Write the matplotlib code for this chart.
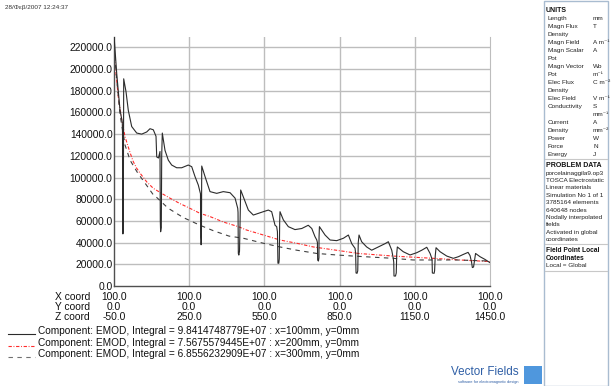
import matplotlib
matplotlib.use("Agg")
import matplotlib.pyplot as plt
from matplotlib import transforms
from matplotlib.patches import Rectangle
from matplotlib.lines import Line2D

plt.rcParams['font.family'] = ['Liberation Sans', 'DejaVu Sans']

# ---------------- data (Z coordinate in mm, EMOD) ----------------
z_solid = [-50, -39.2, -26, -16.9, -16, -15.7, -14.5, -13, -12, -11.3, -2, 7, 20.6, 40.6, 60.5, 80.5,
           93.6, 106.8, 117.6, 120.4, 127.5, 133.5, 134.7, 136, 138.7, 140.3, 142.7, 153.5, 166.7,
           180.2, 200, 220, 246.4, 260, 273, 286.4, 295, 296, 297.5, 298.7, 300, 313, 333, 359.7,
           386, 413, 433, 443.6, 444.8, 446, 448, 450.7, 454, 455.4, 466, 486, 505.8, 525.7, 545.7,
           565.7, 579, 592.4, 599, 602, 604, 607.5, 609.3, 611, 612.3, 625.5, 645.5, 672, 699, 725,
           739, 752, 759, 761.5, 762.5, 765.5, 767.5, 768, 769.5, 792, 812, 838.5, 865, 885, 898.5,
           911.7, 914, 915.6, 919.6, 922.4, 924.4, 927.5, 938, 958, 978, 1004.5, 1031, 1044.5, 1058,
           1064, 1066, 1067, 1073, 1076, 1078, 1080.3, 1104, 1131, 1157.8, 1177.8, 1197.7, 1211,
           1217.7, 1219, 1220, 1227, 1229, 1231.6, 1234.8, 1250.7, 1277.5, 1303.8, 1323.8, 1342.5,
           1362.5, 1370.4, 1376.4, 1379.6, 1384.4, 1388.4, 1392.4, 1410.3, 1430, 1450]
emod_solid = [231000, 196000, 162000, 151000, 140000, 56000, 48000, 52000, 150000, 191000, 179000,
              162000, 147000, 141000, 140000, 142000, 145000, 144000, 138000, 119000, 118000, 124000,
              60000, 50000, 54000, 120000, 141000, 125000, 116000, 111500, 109000, 109000, 111500,
              110000, 101000, 93000, 85000, 45000, 38000, 42000, 110600, 101000, 87000, 85400, 87000,
              86000, 81000, 71600, 68000, 30000, 28500, 32000, 75000, 88500, 82000, 70000, 65400,
              67000, 68500, 70000, 68500, 56000, 54700, 50000, 21000, 21000, 25000, 60000, 68500,
              61000, 54700, 52000, 53000, 56000, 53000, 45400, 42400, 40000, 24000, 23000, 26000,
              45000, 54700, 47000, 42400, 41800, 44000, 47000, 39000, 34700, 30000, 12000, 11700,
              14000, 40000, 47000, 40800, 36000, 33000, 36000, 39000, 40800, 33000, 25500, 22000,
              9200, 9200, 12000, 30000, 36000, 31600, 28600, 30700, 33000, 35700, 30000, 25500,
              23000, 12000, 11700, 14000, 28000, 35300, 31600, 27600, 25500, 27000, 29000, 31000,
              28000, 22000, 17000, 17500, 24000, 30000, 27000, 24500, 21500]

z_red = [-50, -46, -33, -19, -6, 14, 27, 40.6, 54, 80.5, 107, 140, 173, 213, 253, 293, 333, 386,
         446, 479, 546, 612, 679, 745, 812, 878, 925, 1064, 1224, 1330, 1450]
emod_red = [225000, 205000, 174500, 153000, 137600, 123000, 114600, 108500, 104000, 96000, 90000,
            85400, 81000, 76000, 71600, 67000, 64000, 59000, 54700, 51600, 47000, 42400, 39400,
            36000, 33800, 31600, 30000, 27600, 25500, 24000, 22500]

z_dash = [-50, -39, -26, -6, 14, 43, 81, 107, 120, 160, 173, 220, 233, 293, 346, 409, 466, 546,
          612, 679, 759, 838, 905, 1064, 1143, 1223, 1317, 1450]
emod_dash = [220000, 190000, 158000, 130000, 116000, 104800, 92500, 84000, 81700, 73000, 70700,
             64000, 62400, 56000, 51000, 46000, 44000, 39400, 36000, 33000, 30000, 28600, 27600,
             25500, 24000, 24000, 24000, 23000]

y_ticks = [0, 20000, 40000, 60000, 80000, 100000, 120000, 140000, 160000, 180000, 200000, 220000]
z_ticks = [-50.0, 250.0, 550.0, 850.0, 1150.0, 1450.0]
x_coord = [100.0, 100.0, 100.0, 100.0, 100.0, 100.0]
y_coord = [0.0, 0.0, 0.0, 0.0, 0.0, 0.0]

legend_labels = [
    "Component: EMOD, Integral = 9.8414748779E+07 : x=100mm, y=0mm",
    "Component: EMOD, Integral = 7.5675579445E+07 : x=200mm, y=0mm",
    "Component: EMOD, Integral = 6.8556232909E+07 : x=300mm, y=0mm",
]

units_rows = [
    ("Length", "mm"), ("Magn Flux", "T"), ("Density", ""), ("Magn Field", "A m\u207b\u00b9"),
    ("Magn Scalar", "A"), ("Pot", ""), ("Magn Vector", "Wb"), ("Pot", "m\u207b\u00b9"),
    ("Elec Flux", "C m\u207b\u00b2"), ("Density", ""), ("Elec Field", "V m\u207b\u00b9"),
    ("Conductivity", "S"), ("", "mm\u207b\u00b9"), ("Current", "A"), ("Density", "mm\u207b\u00b2"),
    ("Power", "W"), ("Force", "N"), ("Energy", "J"),
]
problem_rows = ["porcelainaggila9.op3", "TOSCA Electrostatic", "Linear materials",
                "Simulation No 1 of 1", "3785164 elements", "640648 nodes",
                "Nodally interpolated", "fields", "Activated in global", "coordinates"]

# ---------------- figure ----------------
W, H = 611, 386
fig = plt.figure(figsize=(W / 100, H / 100), dpi=100)
fig.patch.set_facecolor('white')

def fx(px):
    return px / W

def fy(py):
    return 1 - py / H

ax = fig.add_axes([fx(114), fy(286), fx(490) - fx(114), fy(36.5) - fy(286)])
ax.set_xlim(-50, 1450)
ax.set_ylim(0, 230000)

grid_c = '#bdbdbd'
for z in z_ticks[1:-1]:
    ax.axvline(z, color=grid_c, lw=1.0, zorder=0)
for y in y_ticks[1:]:
    ax.axhline(y, color=grid_c, lw=1.0, zorder=0)

ax.plot(z_solid, emod_solid, color='#2b2b2b', lw=0.8, zorder=3)
ax.plot(z_red, emod_red, color='#ff2a2a', lw=0.8, linestyle=(0, (3, 1.5, 0.8, 1.5)), zorder=2)
ax.plot(z_dash, emod_dash, color='#404040', lw=0.8, linestyle=(0, (4, 4)), zorder=2)

ax.spines['top'].set_visible(False)
ax.spines['right'].set_color(grid_c)
ax.spines['left'].set_color('#505050')
ax.spines['bottom'].set_color('#505050')
ax.spines['left'].set_linewidth(1.0)
ax.spines['bottom'].set_linewidth(1.0)

ax.set_yticks(y_ticks)
ax.set_yticklabels([f"{v:.1f}" for v in y_ticks], fontsize=7.4, color='#111111')
ax.tick_params(axis='y', length=0, pad=1)
ax.set_xticks([])

# x coordinate rows
tr = transforms.blended_transform_factory(ax.transData, fig.transFigure)
rows = [("X coord", x_coord, 297), ("Y coord", y_coord, 307.3), ("Z coord", z_ticks, 317)]
for name, vals, py in rows:
    fig.text(fx(90), fy(py), name, ha='right', va='center', fontsize=7.4, color='#111111')
    for z, v in zip(z_ticks, vals):
        fig.text(z, fy(py), f"{v:.1f}", ha='center', va='center', fontsize=7.4,
                 color='#111111', transform=tr)

# legend
leg_styles = [dict(color='#2b2b2b', ls='-'),
              dict(color='#ff2a2a', ls=(0, (3, 1.5, 0.8, 1.5))),
              dict(color='#707070', ls=(0, (4, 4)))]
for i, (lab, st) in enumerate(zip(legend_labels, leg_styles)):
    py = 331 + 11.6 * i
    fig.add_artist(Line2D([fx(8), fx(35)], [fy(py + 3), fy(py + 3)], lw=0.8,
                          color=st['color'], linestyle=st['ls'], transform=fig.transFigure))
    fig.text(fx(38), fy(py), lab, ha='left', va='center', fontsize=7.3, color='#111111')

# timestamp
fig.text(fx(5), fy(8), "28/\u03a6\u03b5\u03b2/2007 12:24:37", ha='left', va='center',
         fontsize=4.6, color='#333333')

# right info panel
panel_c = '#a9bcd0'
fig.add_artist(Rectangle((fx(544), fy(386)), fx(608) - fx(544), fy(1) - fy(386),
                         transform=fig.transFigure, fill=False, edgecolor=panel_c, lw=1.0))
small = 4.6
y0 = 11
fig.text(fx(546), fy(y0), "UNITS", ha='left', va='center', fontsize=5.0, weight='bold',
         color='#111111')
step = 7.95
for i, (a, b) in enumerate(units_rows):
    py = y0 + step * (i + 1)
    fig.text(fx(548), fy(py), a, ha='left', va='center', fontsize=small, color='#222222')
    fig.text(fx(593), fy(py), b, ha='left', va='center', fontsize=small, color='#222222')
sep1 = y0 + step * len(units_rows) + 5
fig.add_artist(Line2D([fx(545), fx(607)], [fy(sep1), fy(sep1)], lw=0.8, color='#c8c8c8',
                      transform=fig.transFigure))
py = sep1 + 6.5
fig.text(fx(546), fy(py), "PROBLEM DATA", ha='left', va='center', fontsize=5.0, weight='bold',
         color='#111111')
step2 = 7.4
for i, r in enumerate(problem_rows):
    fig.text(fx(546), fy(py + step2 * (i + 1)), r, ha='left', va='center', fontsize=small,
             color='#222222')
sep2 = py + step2 * len(problem_rows) + 4.5
fig.add_artist(Line2D([fx(545), fx(607)], [fy(sep2), fy(sep2)], lw=0.8, color='#c8c8c8',
                      transform=fig.transFigure))
py = sep2 + 6.5
fig.text(fx(546), fy(py), "Field Point Local", ha='left', va='center', fontsize=4.8,
         weight='bold', color='#111111')
fig.text(fx(546), fy(py + 7.6), "Coordinates", ha='left', va='center', fontsize=4.8,
         weight='bold', color='#111111')
fig.text(fx(546), fy(py + 15.2), "Local = Global", ha='left', va='center', fontsize=small,
         color='#222222')
sep3 = py + 20.5
fig.add_artist(Line2D([fx(545), fx(607)], [fy(sep3), fy(sep3)], lw=0.8, color='#c8c8c8',
                      transform=fig.transFigure))

# logo
fig.text(fx(519), fy(372), "Vector Fields", ha='right', va='center', fontsize=8.4,
         color='#2f5fa6')
fig.text(fx(519), fy(381.5), "software for electromagnetic design", ha='right', va='center',
         fontsize=2.8, color='#2f5fa6')
fig.add_artist(Rectangle((fx(524), fy(384)), fx(542) - fx(524), fy(366) - fy(384),
                         transform=fig.transFigure, facecolor='#4f97dd', edgecolor='none'))

fig.savefig("out.png", dpi=100, facecolor='white')
